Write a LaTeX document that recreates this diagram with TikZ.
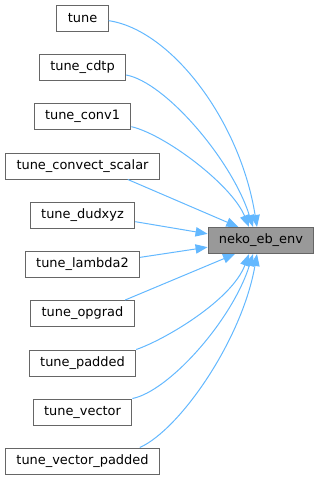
\documentclass[tikz,border=0pt]{standalone}
\usepackage{fontspec}
\setmainfont{DejaVu Sans}
\usetikzlibrary{arrows.meta}
\definecolor{edgeblue}{HTML}{63B8FF}
\definecolor{boxgray}{HTML}{666666}
\definecolor{hlgray}{HTML}{999999}

\begin{document}
\begin{tikzpicture}[
  x=0.75pt,  y=-0.75pt,  fnode/.style={rectangle,draw=boxgray,fill=white,line width=0.75pt,minimum height=19.5pt,inner xsep=8.2pt,inner ysep=0pt,font=\fontsize{9.7}{11}\selectfont},  hnode/.style={fnode,fill=hlgray},  link/.style={draw=edgeblue,line width=0.75pt,-{Triangle[length=9pt,width=7pt]}}
]
  \useasboundingbox (0,0) rectangle (320,480);
  \node[fnode] (f0) at (82.5,18) {tune};
  \node[fnode] (f1) at (82.5,67) {tune\_cdtp};
  \node[fnode] (f2) at (82.5,116) {tune\_conv1};
  \node[fnode] (f3) at (82.5,166) {tune\_convect\_scalar};
  \node[fnode] (f4) at (82.5,215) {tune\_dudxyz};
  \node[fnode] (f5) at (82.5,264) {tune\_lambda2};
  \node[fnode] (f6) at (82.5,313.5) {tune\_opgrad};
  \node[fnode] (f7) at (82.5,363) {tune\_padded};
  \node[fnode] (f8) at (82.5,412) {tune\_vector};
  \node[fnode] (f9) at (82.5,461) {tune\_vector\_padded};
  \node[hnode] (env) at (261,240.5) {neko\_eb\_env};
  \draw[link] ([yshift=-2pt]f0.east) .. controls +(62,9) and +(-17,-107) .. ([xshift=-3pt]env.north);
  \draw[link] ([yshift=-6pt]f1.east) .. controls +(39,7) and +(-21,-67) .. ([xshift=-6pt]env.north);
  \draw[link] ([yshift=-8pt]f2.east) .. controls +(34,8) and +(-17,-42) .. ([xshift=-9pt]env.north);
  \draw[link] ([xshift=34pt]f3.south) -- ([xshift=-17pt]env.north);
  \draw[link] ([yshift=-5pt]f4.east) -- ([yshift=5pt]env.west);
  \draw[link] ([yshift=5pt]f5.east) -- ([yshift=-5pt]env.west);
  \draw[link] ([xshift=32pt]f6.north) -- ([xshift=-19.5pt]env.south);
  \draw[link] (f7.north east) .. controls +(29,-10) and +(-17,46) .. ([xshift=-9pt]env.south);
  \draw[link] (f8.north east) .. controls +(36,-7) and +(-21,67) .. ([xshift=-6pt]env.south);
  \draw[link] ([xshift=43pt]f9.north) .. controls +(40,-18) and +(-15,86) .. ([xshift=-3pt]env.south);
\end{tikzpicture}
\end{document}
